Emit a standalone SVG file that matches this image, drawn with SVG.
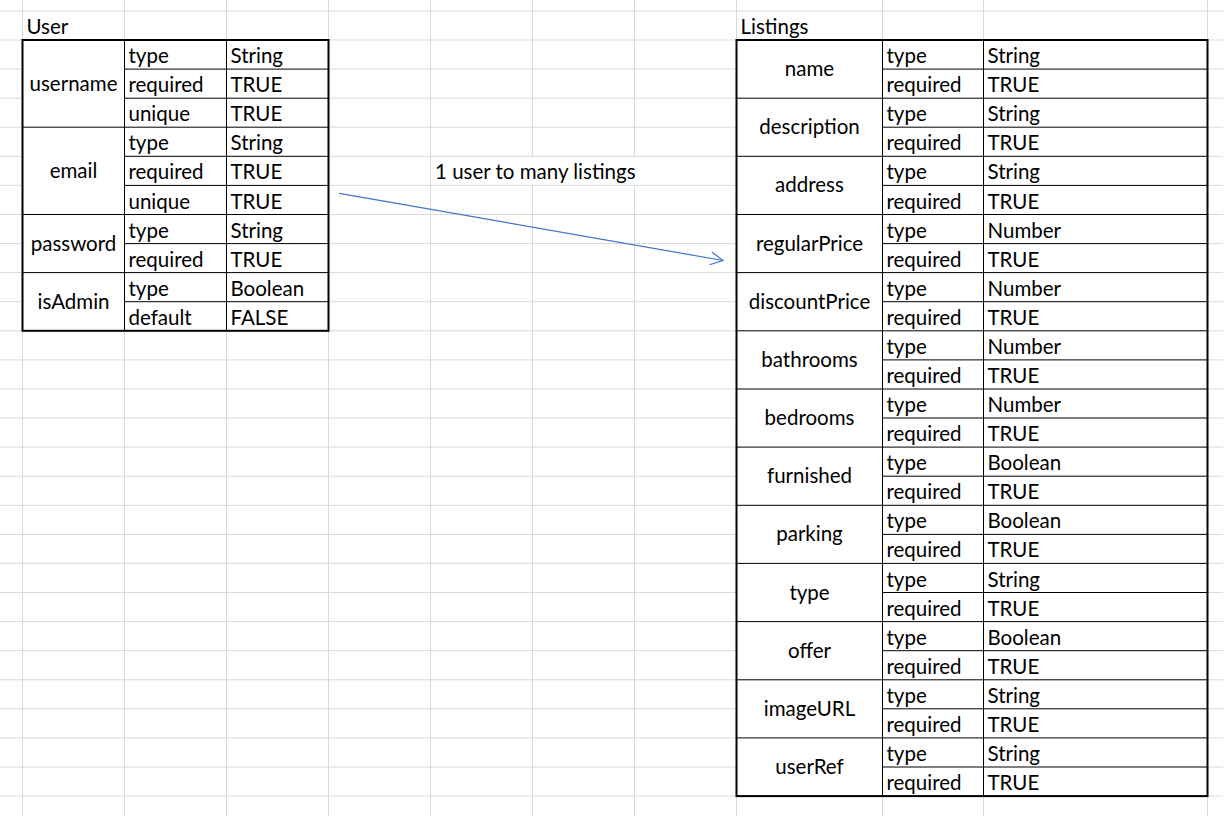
<svg xmlns="http://www.w3.org/2000/svg" width="1225" height="826" viewBox="0 0 1225 826">
<style>
.grid{stroke:#d9d9d9;stroke-width:1;fill:none}
.cell{fill:#ffffff}
.thin{stroke:#000;stroke-width:1;fill:none}
.thick{stroke:#000;stroke-width:2;fill:none}
.conn{stroke:#4472C4;stroke-width:1.2;fill:none}
text{font-family:Lato,"Liberation Sans",sans-serif;font-size:20.5px;fill:#000}
.c{text-anchor:middle}
</style>
<defs>
<marker id="open" markerUnits="userSpaceOnUse" markerWidth="16" markerHeight="16" viewBox="0 0 16 16" refX="14" refY="8" orient="auto">
<path d="M1.5,1.5 L14,8 L1.5,14.5" fill="none" stroke="#4472C4" stroke-width="1.2"/>
</marker>
</defs>
<rect x="0" y="0" width="1225" height="826" fill="#ffffff"/>
<g id="gridlines">
<path class="grid" d="M22.5,0V816 M124.5,0V816 M226.5,0V816 M328.5,0V816 M430.5,0V816 M532.5,0V156.3 M532.5,185.4V816 M634.5,0V156.3 M634.5,185.4V816 M736.5,0V816 M882.5,0V816 M983.5,0V816 M1207.5,0V816"/>
<path class="grid" d="M0,10.9H1223 M0,40H1223 M0,69.1H1223 M0,98.2H1223 M0,127.2H1223 M0,156.3H1223 M0,185.4H1223 M0,214.5H1223 M0,243.6H1223 M0,272.6H1223 M0,301.7H1223 M0,330.8H1223 M0,359.9H1223 M0,389H1223 M0,418H1223 M0,447.1H1223 M0,476.2H1223 M0,505.3H1223 M0,534.4H1223 M0,563.4H1223 M0,592.5H1223 M0,621.6H1223 M0,650.7H1223 M0,679.8H1223 M0,708.8H1223 M0,737.9H1223 M0,767H1223 M0,796.1H1223"/>
</g>
<g id="user">
<text x="26.5" y="33.5">User</text>
<rect class="cell" x="22.5" y="40" width="306" height="290.8"/>
<path class="thin" d="M124.5,40V330.8 M226.5,40V330.8 M22.5,127.2H328.5 M22.5,214.5H328.5 M22.5,272.6H328.5 M124.5,69.1H328.5 M124.5,98.2H328.5 M124.5,156.3H328.5 M124.5,185.4H328.5 M124.5,243.6H328.5 M124.5,301.7H328.5"/>
<rect class="thick" x="22.5" y="40" width="306" height="290.8"/>
<text class="c" x="73.5" y="90.6">username</text>
<text class="c" x="73.5" y="177.9">email</text>
<text class="c" x="73.5" y="250.6">password</text>
<text class="c" x="73.5" y="308.7">isAdmin</text>
<text x="128.5" y="63.1">type</text><text x="230.5" y="63.1">String</text>
<text x="128.5" y="92.2">required</text><text x="230.5" y="92.2">TRUE</text>
<text x="128.5" y="121.2">unique</text><text x="230.5" y="121.2">TRUE</text>
<text x="128.5" y="150.3">type</text><text x="230.5" y="150.3">String</text>
<text x="128.5" y="179.4">required</text><text x="230.5" y="179.4">TRUE</text>
<text x="128.5" y="208.5">unique</text><text x="230.5" y="208.5">TRUE</text>
<text x="128.5" y="237.6">type</text><text x="230.5" y="237.6">String</text>
<text x="128.5" y="266.6">required</text><text x="230.5" y="266.6">TRUE</text>
<text x="128.5" y="295.7">type</text><text x="230.5" y="295.7">Boolean</text>
<text x="128.5" y="324.8">default</text><text x="230.5" y="324.8">FALSE</text>
</g>
<g id="listings">
<text x="740.5" y="33.5">Listings</text>
<rect class="cell" x="736.5" y="40" width="471" height="756.1"/>
<path class="thin" d="M882.5,40V796.1 M983.5,40V796.1 M736.5,98.2H1207.5 M736.5,156.3H1207.5 M736.5,214.5H1207.5 M736.5,272.6H1207.5 M736.5,330.8H1207.5 M736.5,389H1207.5 M736.5,447.1H1207.5 M736.5,505.3H1207.5 M736.5,563.4H1207.5 M736.5,621.6H1207.5 M736.5,679.8H1207.5 M736.5,737.9H1207.5 M882.5,69.1H1207.5 M882.5,127.2H1207.5 M882.5,185.4H1207.5 M882.5,243.6H1207.5 M882.5,301.7H1207.5 M882.5,359.9H1207.5 M882.5,418H1207.5 M882.5,476.2H1207.5 M882.5,534.4H1207.5 M882.5,592.5H1207.5 M882.5,650.7H1207.5 M882.5,708.8H1207.5 M882.5,767H1207.5"/>
<rect class="thick" x="736.5" y="40" width="471" height="756.1"/>
<text class="c" x="809.5" y="76.1">name</text>
<text class="c" x="809.5" y="134.2">description</text>
<text class="c" x="809.5" y="192.4">address</text>
<text class="c" x="809.5" y="250.6">regularPrice</text>
<text class="c" x="809.5" y="308.7">discountPrice</text>
<text class="c" x="809.5" y="366.9">bathrooms</text>
<text class="c" x="809.5" y="425.1">bedrooms</text>
<text class="c" x="809.5" y="483.2">furnished</text>
<text class="c" x="809.5" y="541.4">parking</text>
<text class="c" x="809.5" y="599.5">type</text>
<text class="c" x="809.5" y="657.7">offer</text>
<text class="c" x="809.5" y="715.9">imageURL</text>
<text class="c" x="809.5" y="774">userRef</text>
<text x="886.5" y="63.1">type</text><text x="987.5" y="63.1">String</text>
<text x="886.5" y="92.2">required</text><text x="987.5" y="92.2">TRUE</text>
<text x="886.5" y="121.2">type</text><text x="987.5" y="121.2">String</text>
<text x="886.5" y="150.3">required</text><text x="987.5" y="150.3">TRUE</text>
<text x="886.5" y="179.4">type</text><text x="987.5" y="179.4">String</text>
<text x="886.5" y="208.5">required</text><text x="987.5" y="208.5">TRUE</text>
<text x="886.5" y="237.6">type</text><text x="987.5" y="237.6">Number</text>
<text x="886.5" y="266.6">required</text><text x="987.5" y="266.6">TRUE</text>
<text x="886.5" y="295.7">type</text><text x="987.5" y="295.7">Number</text>
<text x="886.5" y="324.8">required</text><text x="987.5" y="324.8">TRUE</text>
<text x="886.5" y="353.9">type</text><text x="987.5" y="353.9">Number</text>
<text x="886.5" y="383">required</text><text x="987.5" y="383">TRUE</text>
<text x="886.5" y="412">type</text><text x="987.5" y="412">Number</text>
<text x="886.5" y="441.1">required</text><text x="987.5" y="441.1">TRUE</text>
<text x="886.5" y="470.2">type</text><text x="987.5" y="470.2">Boolean</text>
<text x="886.5" y="499.3">required</text><text x="987.5" y="499.3">TRUE</text>
<text x="886.5" y="528.4">type</text><text x="987.5" y="528.4">Boolean</text>
<text x="886.5" y="557.4">required</text><text x="987.5" y="557.4">TRUE</text>
<text x="886.5" y="586.5">type</text><text x="987.5" y="586.5">String</text>
<text x="886.5" y="615.6">required</text><text x="987.5" y="615.6">TRUE</text>
<text x="886.5" y="644.7">type</text><text x="987.5" y="644.7">Boolean</text>
<text x="886.5" y="673.8">required</text><text x="987.5" y="673.8">TRUE</text>
<text x="886.5" y="702.8">type</text><text x="987.5" y="702.8">String</text>
<text x="886.5" y="731.9">required</text><text x="987.5" y="731.9">TRUE</text>
<text x="886.5" y="761">type</text><text x="987.5" y="761">String</text>
<text x="886.5" y="790.1">required</text><text x="987.5" y="790.1">TRUE</text>
</g>
<g id="connectors">
<line class="conn" x1="339.3" y1="193.3" x2="723" y2="260.5" marker-end="url(#open)"/>
<text x="435" y="179.4">1 user to many listings</text>
</g>
</svg>
